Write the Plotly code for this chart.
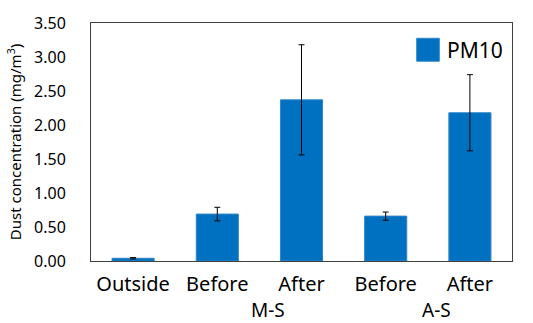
import plotly.graph_objects as go

categories = ["Outside", "Before", "After", "Before", "After"]
groups = ["M-S", "A-S"]
pm10 = [0.04, 0.69, 2.37, 0.66, 2.18]
pm10_err = [0.01, 0.10, 0.81, 0.06, 0.56]
y_ticks = [0, 0.5, 1.0, 1.5, 2.0, 2.5, 3.0, 3.5]

FONT = "Noto Sans"
BLUE = "#0070C0"
x = list(range(len(categories)))

fig = go.Figure()
fig.add_trace(go.Bar(
    x=x, y=pm10, name="PM10", width=0.5,
    marker=dict(color=BLUE, line=dict(color="#2F85C8", width=1)),
    error_y=dict(type="data", array=pm10_err, visible=True,
                 color="black", thickness=1, width=3),
    showlegend=False,
))

fig.update_layout(
    width=533, height=323,
    margin=dict(l=91, r=21, t=12, b=62),
    plot_bgcolor="white", paper_bgcolor="white",
    font=dict(family=FONT, color="black"),
    xaxis=dict(range=[-0.5, 4.5], tickvals=x, ticktext=categories,
               tickfont=dict(size=20), showgrid=False, zeroline=False,
               showline=True, linecolor="#404040", linewidth=1, mirror=True,
               ticks="", ticklabelstandoff=5),
    yaxis=dict(range=[0, 3.5], tickvals=y_ticks,
               ticktext=[f"{v:.2f}" for v in y_ticks],
               tickfont=dict(size=16), showgrid=False, zeroline=False,
               showline=True, linecolor="#404040", linewidth=1, mirror=True,
               ticks="", ticklabelstandoff=21,
               title=dict(text="Dust concentration (mg/m<sup>3</sup>)",
                          font=dict(size=15), standoff=8)),
)

# group labels
for gx, g in zip([1.6, 3.6], groups):
    fig.add_annotation(x=gx, y=0, xref="x", yref="paper", text=g,
                       showarrow=False, yshift=-49, yanchor="middle",
                       borderpad=0, font=dict(size=19, family=FONT))

# legend (drawn manually to match the large swatch)
fig.add_shape(type="rect", xref="paper", yref="paper",
              x0=(416.7 - 91) / 421, x1=(439.3 - 91) / 421,
              y0=(261 - 52) / 249, y1=(261 - 28) / 249,
              fillcolor=BLUE, line=dict(color="#2F85C8", width=1))
fig.add_annotation(xref="paper", yref="paper", x=(445 - 91) / 421,
                   y=(261 - 40) / 249, text="PM10", showarrow=False,
                   xanchor="left", yanchor="middle",
                   font=dict(size=21, family=FONT))

fig.write_html("out.html")
